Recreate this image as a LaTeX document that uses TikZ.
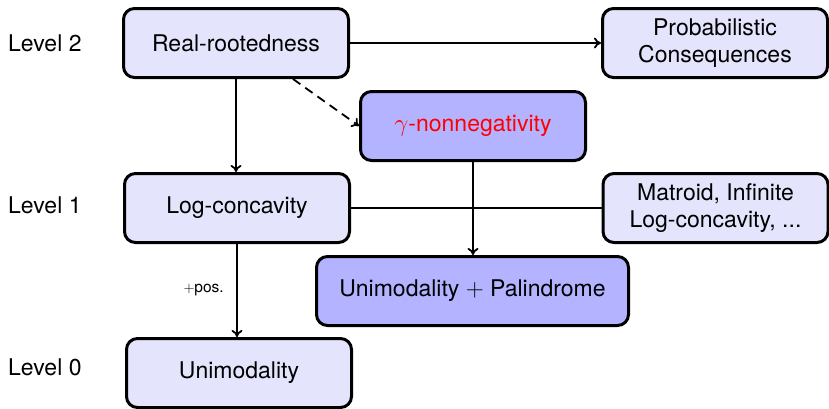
\documentclass[tikz,border=0pt]{standalone}
\usepackage{fontspec}
\setmainfont{TeX Gyre Heros}
\usetikzlibrary{calc,arrows.meta}
\definecolor{lightbox}{RGB}{228,228,252}
\definecolor{darkbox}{RGB}{179,179,255}
\begin{document}
\begin{tikzpicture}[x=1pt,y=-1pt,
  box/.style={draw=black,line width=3pt,rounded corners=11pt,fill=lightbox,
    minimum width=225pt,minimum height=69pt,align=center,inner sep=0pt,
    font=\fontsize{23}{27}\selectfont},
  darkbx/.style={box,fill=darkbox},
  lvl/.style={anchor=west,inner sep=0pt,font=\fontsize{23}{27}\selectfont},
  conn/.style={line width=1.8pt},
  arr/.style={conn,-{To[length=7pt,width=11pt]}}]
\useasboundingbox (0,0) rectangle (829,408);
\node[lvl] (l2) at (8,43) {Level 2};
\node[lvl] (l1) at (8,205) {Level 1};
\node[lvl] (l0) at (8,367) {Level 0};
\node[box] (real) at (236,43) {Real-rootedness};
\node[box] (prob) at (715,43) {Probabilistic\\Consequences};
\node[darkbx] (gamma) at (473,126) {\textcolor{red}{$\gamma$-nonnegativity}};
\node[box] (log) at (237,208) {Log-concavity};
\node[box] (mat) at (715.5,208) {Matroid, Infinite\\Log-concavity, ...};
\node[darkbx,minimum width=312pt] (up) at (472.5,291) {Unimodality $+$ Palindrome};
\node[box] (uni) at (239,373) {Unimodality};
\draw[arr] (real.east) -- (prob.west);
\draw[arr] (real.south) -- (real.south |- log.north);
\draw[arr,dash pattern=on 9pt off 6pt] ($(real.south)!0.5!(real.south east)$) -- (gamma.west);
\draw[conn] (log.east) -- (mat.west);
\draw[arr] (gamma.south) -- (gamma.south |- up.north);
\draw[arr] (log.south) -- node[left=9pt,font=\fontsize{15.5}{18}\selectfont] (pos) {$+$pos.} (log.south |- uni.north);
\end{tikzpicture}
\end{document}
